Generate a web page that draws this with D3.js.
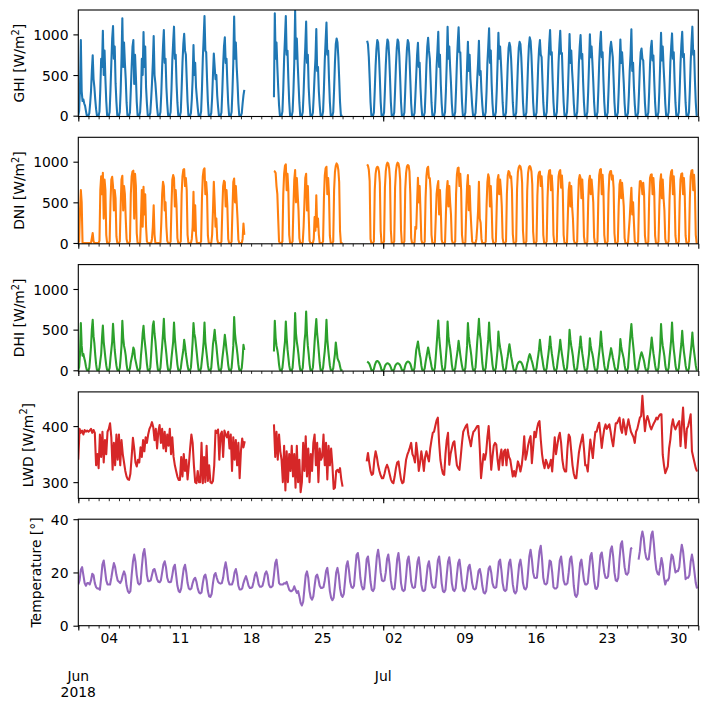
<!DOCTYPE html>
<html><head><meta charset="utf-8">
<script src="https://cdn.jsdelivr.net/npm/d3@7"></script>
<style>body{margin:0;background:#fff}svg{display:block}text{font-family:"DejaVu Sans",sans-serif;fill:#000}</style>
</head><body><svg id="c" width="707" height="712"></svg>
<script>
// ---- data: one row per day (Jun 1 .. Jul 31 2018); irradiance every 2 h, LWD / temperature every 3 h; null = missing
const ghi = [
[0,60,350,930,300,180,200,150,120,60,5,0],[0,30,150,300,550,744,450,350,200,80,5,0],[0,50,330,700,600,1045,500,800,450,180,5,0],
[0,45,320,650,950,1103,700,850,400,170,5,0],[0,45,300,700,1198,600,900,650,450,160,5,0],[0,40,320,600,850,930,390,750,480,170,5,0],
[0,45,250,700,500,1029,600,850,350,150,5,0],[0,35,200,400,650,979,500,400,250,100,5,0],[0,45,280,600,850,1054,650,700,350,150,5,0],
[0,45,320,680,900,1095,700,750,400,160,5,0],[0,45,330,650,880,1008,800,750,450,170,5,0],[0,35,200,450,868,500,650,350,220,100,5,0],
[0,50,330,700,950,1227,800,780,450,170,5,0],[0,35,220,500,764,600,450,500,250,110,5,0],[0,40,300,620,850,963,650,700,400,150,5,0],
[0,45,300,650,1219,700,900,600,400,150,5,0],[0,30,150,250,318],null,null,
[null,null,null,227,1260,700,900,600,350,130,5,0],[0,50,330,700,950,1227,750,800,450,170,5,0],[0,50,300,650,1289,700,950,650,400,160,5,0],
[0,45,280,600,850,1157,650,750,350,150,5,0],[0,40,250,500,700,1066,550,600,300,130,5,0],[0,50,330,680,920,1145,750,800,450,170,5,0],
[0,45,320,650,880,950,900,720,460,170,5,0],[0],null,
[null,null,null,null,null,921,880,720,460,170,5,0],[0,40,310,610,820,930,900,730,470,170,5,0],[0,40,310,615,830,938,905,735,470,170,5,0],
[0,40,310,615,830,938,905,735,470,170,5,0],[0,40,310,610,820,930,895,720,440,150,5,0],[0,35,250,500,750,897,600,650,350,140,5,0],
[0,40,300,620,850,959,800,700,420,160,5,0],[0,45,280,600,800,1033,600,750,380,150,5,0],[0,45,300,650,1095,700,850,600,400,150,5,0],
[0,45,320,660,900,1087,780,780,450,170,5,0],[0,40,280,600,909,550,750,450,300,130,5,0],[0,35,220,450,650,921,500,550,300,130,5,0],
[0,45,300,650,850,1074,650,800,400,150,5,0],[0,45,300,640,1021,700,850,650,420,160,5,0],[0,40,310,620,830,897,850,700,440,160,5,0],
[0,40,310,615,830,909,880,720,460,165,5,0],[0,40,310,630,860,963,920,740,460,165,5,0],[0,40,300,620,820,930,750,720,430,160,5,0],
[0,45,310,650,880,1054,750,780,440,165,5,0],[0,45,310,650,870,1045,760,770,440,165,5,0],[0,45,280,620,1004,650,800,550,380,150,5,0],
[0,45,300,640,850,992,700,760,420,160,5,0],[0,45,300,640,1000,720,850,650,420,160,5,0],[0,45,310,650,880,1033,720,780,440,165,5,0],
[0,40,310,620,830,909,820,720,450,165,5,0],[0,40,290,600,938,650,780,600,400,150,5,0],[0,35,250,550,750,1062,550,650,350,140,5,0],
[0,40,290,590,780,826,700,680,420,155,5,0],[0,40,300,620,830,921,680,740,430,160,5,0],[0,45,300,640,1021,680,850,600,400,150,5,0],
[0,45,300,650,850,1012,700,780,430,160,5,0],[0,45,300,640,870,1033,720,760,430,160,5,0],[0,45,310,660,900,1095,750,800,440,165,5,0]
];
const dni = [
[0,20,400,650,500,0,0,0,0,0,0,0],[0,0,0,0,60,123,20,0,0,0,0,0],[0,30,650,820,600,864,300,780,650,100,0,0],
[0,20,500,780,815,700,400,650,550,80,0,0],[0,20,450,780,827,400,700,600,300,50,0,0],[0,20,600,820,880,889,300,850,700,120,0,0],
[0,10,300,650,200,691,350,600,200,20,0,0],[0,0,0,50,200,465,100,0,0,0,0,0],[0,10,250,600,753,700,400,500,200,30,0,0],
[0,15,450,780,835,800,450,650,450,60,0,0],[0,20,600,820,900,909,700,800,650,100,0,0],[0,0,50,200,630,150,465,100,0,0,0,0],
[0,20,550,820,900,918,600,750,600,90,0,0],[0,0,100,400,753,500,200,300,50,0,0,0],[0,15,400,700,765,750,450,650,450,50,0,0],
[0,15,400,750,794,500,700,500,300,40,0,0],[0,0,50,239,100],null,null,
[null,null,null,885,880,860,700,600,300,20,0,0],[0,20,600,850,950,967,650,850,650,100,0,0],[0,20,450,780,897,500,800,600,400,60,0,0],
[0,10,200,500,800,852,400,700,350,30,0,0],[0,0,50,320,150,588,200,300,100,0,0,0],[0,20,550,830,920,938,600,800,600,90,0,0],
[0,20,650,870,950,979,960,900,750,150,0,0],[0],null,
[null,null,null,null,null,967,950,900,760,50,0,0],[0,20,650,850,920,938,930,880,740,150,0,0],[0,20,680,880,960,988,975,920,780,160,0,0],
[0,20,680,880,960,988,975,920,780,160,0,0],[0,20,660,860,940,959,950,880,600,60,0,0],[0,10,200,176,500,802,500,700,400,40,0,0],
[0,15,550,820,920,938,800,800,650,100,0,0],[0,10,300,600,700,761,350,650,400,40,0,0],[0,10,350,650,761,450,700,500,350,40,0,0],
[0,20,600,840,920,926,700,850,650,100,0,0],[0,10,400,700,835,403,700,400,200,20,0,0],[0,0,50,200,400,753,300,250,50,0,0,0],
[0,15,450,750,844,800,450,700,450,60,0,0],[0,15,450,780,835,600,780,650,450,60,0,0],[0,20,600,830,885,870,800,820,650,110,0,0],
[0,20,660,870,930,951,940,890,740,150,0,0],[0,20,640,860,930,947,930,880,720,140,0,0],[0,20,580,820,870,877,700,820,650,100,0,0],
[0,20,550,820,890,897,650,830,650,100,0,0],[0,20,560,820,880,897,680,830,640,100,0,0],[0,10,350,650,745,450,700,450,300,40,0,0],
[0,15,500,780,835,800,550,780,550,80,0,0],[0,15,500,770,827,600,780,650,500,70,0,0],[0,20,560,830,900,909,600,840,640,100,0,0],
[0,20,600,840,880,885,780,830,680,120,0,0],[0,15,450,720,774,550,740,600,450,60,0,0],[0,0,156,300,500,679,350,500,250,20,0,0],
[0,15,550,760,761,720,600,740,600,90,0,0],[0,15,550,800,840,844,600,800,620,90,0,0],[0,15,450,750,844,550,780,550,400,50,0,0],
[0,20,520,800,880,897,600,820,600,90,0,0],[0,15,500,780,850,856,600,800,600,90,0,0],[0,20,540,820,890,897,650,840,640,100,0,0]
];
const dhi = [
[0,40,200,580,300,180,200,150,110,50,5,0],[0,30,150,290,500,621,420,330,190,75,5,0],[0,30,120,200,400,551,350,250,150,60,5,0],
[0,30,150,250,350,572,400,250,150,60,5,0],[0,30,150,300,609,400,300,250,180,70,5,0],[0,25,100,150,200,280,250,150,100,50,5,0],
[0,30,180,300,450,547,400,300,200,80,5,0],[0,35,190,380,550,601,450,360,230,90,5,0],[0,30,170,300,450,634,400,300,200,80,5,0],
[0,30,150,250,350,588,400,280,180,70,5,0],[0,25,110,180,250,374,300,200,130,55,5,0],[0,35,180,350,580,450,400,300,200,90,5,0],
[0,30,130,230,350,588,350,250,160,60,5,0],[0,30,170,320,400,498,380,300,190,80,5,0],[0,30,140,230,320,436,350,250,170,65,5,0],
[0,30,160,300,654,450,350,280,190,75,5,0],[0,30,150,313,250],null,null,
[null,null,null,230,609,400,300,250,180,70,5,0],[0,30,130,250,350,601,400,260,160,60,5,0],[0,30,170,320,704,450,350,280,190,75,5,0],
[0,30,180,350,450,724,450,300,200,80,5,0],[0,35,180,350,500,630,450,350,220,90,5,0],[0,30,140,240,380,621,380,260,160,60,5,0],
[0,25,120,200,342,250,150,120,100,50,5,0],[0],null,
[null,null,null,null,null,107,100,90,70,40,5,0],[0,15,60,90,110,115,110,95,75,45,5,0],[0,12,50,70,82,86,84,75,60,35,5,0],
[0,12,50,70,82,86,84,75,60,35,5,0],[0,15,60,85,100,107,105,95,80,45,5,0],[0,30,140,250,300,354,280,200,150,60,5,0],
[0,25,100,160,220,280,230,160,110,50,5,0],[0,30,160,300,450,613,420,300,190,75,5,0],[0,30,160,300,601,420,330,270,180,70,5,0],
[0,25,110,180,260,362,280,190,120,55,5,0],[0,30,160,300,580,420,330,260,180,70,5,0],[0,35,180,350,480,634,450,380,230,90,5,0],
[0,30,150,270,380,588,400,280,180,70,5,0],[0,30,140,250,477,350,280,220,160,65,5,0],[0,25,110,170,250,321,250,170,120,55,5,0],
[0,15,60,85,100,107,105,95,75,45,5,0],[0,20,80,120,170,198,170,130,95,50,5,0],[0,25,110,180,260,374,280,190,130,55,5,0],
[0,25,120,200,290,416,300,210,140,60,5,0],[0,25,115,190,270,374,280,200,130,55,5,0],[0,30,150,270,498,380,300,240,170,65,5,0],
[0,25,120,210,300,416,300,210,140,60,5,0],[0,25,120,200,395,300,240,200,140,60,5,0],[0,25,130,220,320,477,330,230,150,60,5,0],
[0,22,100,150,210,272,220,160,110,50,5,0],[0,25,120,200,383,290,230,190,140,60,5,0],[0,30,170,320,450,568,420,320,210,80,5,0],
[0,22,90,140,190,222,190,150,110,50,5,0],[0,25,120,200,290,403,300,210,140,60,5,0],[0,30,150,270,568,400,300,240,170,65,5,0],
[0,30,150,260,380,588,380,260,170,65,5,0],[0,25,130,230,330,486,330,230,150,60,5,0],[0,25,130,220,320,465,320,230,150,60,5,0]
];
const lwd = [
[340,395,388,392,385,393,390,392],[390,392,395,388,393,388,330,350],[325,385,345,390,335,375,350,390],[395,405,380,322,370,330,385,340],
[385,330,375,350,335,320,310,305],[304,315,345,379,360,335,328,340],[335,362,345,375,355,380,370,385],[395,400,407,398,375,395,360,390],
[402,370,395,360,390,355,385,365],[395,350,380,345,330,320,310,304],[304,345,310,350,320,340,305,330],[360,385,370,330,300,298,320,300],
[300,370,298,345,300,365,302,330],[300,298,302,330,392,388,394,340],[385,390,345,392,385,380,390,360],[385,320,380,340,375,330,370,307],
[355,378,362,373,null,null,null,null],null,null,[null,null,403,345,390,340,385,355],
[340,300,365,285,355,300,350,320],[365,310,350,290,365,300,340,282],[300,370,320,382,310,360,300,350],[320,370,385,330,370,300,360,340],
[345,385,330,370,305,365,330,360],[330,288,290,320,322,318,325,305],[292],null,
[null,null,null,337,352,335,320,313],[315,340,355,345,330,320,312,307],[307,315,325,331,325,315,305,300],[298,310,325,335,337,320,305,298],
[300,320,340,349,355,362,370,350],[345,335,370,350,320,335,355,340],[320,345,355,345,337,360,375,388],[390,400,410,415,370,340,325,315],
[313,350,375,388,331,350,360,370],[373,350,330,325,322,345,370,390],[395,400,403,385,375,364,380,390],[392,396,400,400,360,307,330,350],
[340,352,380,400,365,322,345,365],[370,367,340,322,345,358,330,355],[358,330,358,345,340,325,310,320],[310,322,337,330,319,330,350,382],
[340,350,365,375,382,334,361,390],[380,395,405,409,376,350,334,325],[340,334,325,330,340,319,350,380],[350,365,380,388,370,340,325,319],
[319,360,385,380,355,330,315,307],[307,330,352,365,375,385,360,330],[330,319,350,376,360,343,370,390],[390,400,406,385,361,380,395,403],
[395,400,403,390,375,364,385,405],[405,410,415,395,388,412,400,385],[400,412,400,390,385,380,370,390],[395,405,415,418,454,420,391,410],
[418,410,400,394,400,405,409,415],[412,418,421,421,349,330,316,322],[328,360,376,400,412,400,394,400],[405,409,364,400,433,390,361,395],
[400,410,421,355,345,335,325,319]
];
const temp = [
[15.5,17,21,22,19,16,15,16],[16,15.5,17,19.5,19,16,14.5,14],[14,13.5,18,23,24.5,21,17,15.5],[15.5,15.5,18,21,23.5,22,19,17],
[16.5,16,17,19,20.4,19,15,13],[12.3,13,19,24,26.7,24,19,16],[15.5,16,22,27,28.8,25,19,16.7],[16.7,17,19,21,21.3,19.5,17.5,16.5],
[16.3,17,20,23,24.2,22,18,16.5],[16.3,16.5,19,22,22.9,19,15,13],[12.6,14,18,21.5,22.9,20,16,14],[13.6,14,16,17.5,18,16.5,14,12.5],
[12.1,12.5,16,18.5,19.2,17,13,11],[10.8,12,16,19,19.8,18,16.5,16],[15.8,16,18,21.5,23.8,21,17,15.5],[15.5,15.5,17,20,21.3,19,15,13.6],
[13.6,14,16,17.5,18.6,17,15,14.2],[14.2,14.5,16.5,19,20,18,15.5,14.6],[14.6,15,17,19.5,20.4,19,15.5,14.5],[14.5,15,19,23.5,24.8,21,16,15.5],
[15.5,15.5,16,15.8,16.5,15,13.5,13],[13,13.5,14.8,13.5,12.3,13,11,8.5],[7.6,9,14,19,20.4,18,13,10.5],[9.8,11,15,18.5,19.2,17.5,15,14.2],
[14.2,14.5,17,20.5,21.7,18,13,10.5],[9.6,10.5,15,20,21.7,19,14,11.5],[10.8,12,17,22.5,24.2,21,16.5,14.5],[14.2,15,21,26.5,27.3,24,18,15],
[13.6,14,19,25,26,22,16.5,13.5],[13,14,20,26,28.5,25,20,17],[16.7,17,20,25,26.7,23,17,14],[13.6,14,19,25,27.3,23,16,13.5],
[13,13.5,18.5,24.5,26,22,16.5,14.5],[14.2,14.5,19,24,25.7,21.5,15.5,13.2],[13,13.5,18,22.5,24.2,21,16,14.5],[14.2,14.5,19,24.5,26,22,16,13],
[12.6,13.5,19,24,25.7,22,16,13.5],[13,14,19,23.5,24.8,21,16,13.3],[13,14,18,22,22.9,20,16,14],[13.6,14,17,20.5,21.3,19,15,12.5],
[12.1,13,17.5,21.5,22.3,20,16,14.5],[14.2,14.5,19,24,24.8,21,16,13.5],[13,13.5,18.5,23.5,24.8,21,15.5,12.8],[12.1,13,18,23,24.8,21.5,16,14],
[13.6,14.5,20,26,28.5,25,20,18],[17.9,18,23,28,30,25,18,15.8],[15.5,16,20,24.5,24,20,14.5,14],[14,14.5,19.5,24.5,26,22,17,15.5],
[15.5,16,20,25,26,22,15,11.5],[10.8,12,18,23.5,24.8,21,17,15.5],[15.5,16,21,26,27.3,23,17,14],[13.8,15,21,26.5,27.5,24,20,18],
[17.9,18.5,24,28.5,29.8,26,20,17],[16.7,18,25,30.5,31.7,27,22,19.5],[19.2,20,25,29,29.2,null,null,null],[null,24.8,28,33,35.4,33,28,25.5],
[24.8,25,29,34,35.4,31,25,21],[19.5,19.2,22,25.4,23,18,15.5,17],[17,18,23,26.7,26,23,20,20.5],[20.5,22,27,30.4,28,23,17.5,18],
[18,19,24,26.7,24,20,16,14]
];
const irrTicks = [0, 500, 1000], lwdTicks = [300, 400], tempTicks = [0, 20, 40];
const irrDomain = [-10, 1300], lwdDomain = [271, 461], tempDomain = [0, 40];
const START = Date.UTC(2018, 5, 1), END = Date.UTC(2018, 7, 1);

// ---- layout
const L = 78.3, R = 698.3, TOP0 = 10, STEP = 127.3, PH = 106.5, FS = 13.9;
const svg = d3.select('#c');
svg.append('rect').attr('width', 707).attr('height', 712).attr('fill', '#fff');
const x = d3.scaleUtc().domain([START, END]).range([L, R]);

function toPoints(rows, stepH) {
  const out = [];
  rows.forEach((row, d) => {
    const base = START + d * 864e5;
    if (!row) { out.push({t: base, v: null}); return; }
    row.forEach((v, i) => out.push({t: base + i * stepH * 36e5, v}));
  });
  return out;
}

const panels = [
  {rows: ghi, step: 2, color: '#1f77b4', dom: irrDomain, ticks: irrTicks, name: 'GHI', unit: true, lx: 24},
  {rows: dni, step: 2, color: '#ff7f0e', dom: irrDomain, ticks: irrTicks, name: 'DNI', unit: true, lx: 24},
  {rows: dhi, step: 2, color: '#2ca02c', dom: irrDomain, ticks: irrTicks, name: 'DHI', unit: true, lx: 24},
  {rows: lwd, step: 3, color: '#d62728', dom: lwdDomain, ticks: lwdTicks, name: 'LWD', unit: true, lx: 32.5},
  {rows: temp, step: 3, color: '#9467bd', dom: tempDomain, ticks: tempTicks, name: 'Temperature [°]', unit: false, lx: 41.3}
];

const days = d3.utcDay.range(START, END);
const months = d3.utcMonth.range(START, END + 1);
const mondays = d3.utcMonday.range(START, END);

panels.forEach((p, i) => {
  const top = TOP0 + i * STEP, bot = top + PH;
  const y = d3.scaleLinear().domain(p.dom).range([bot, top]);
  const cid = 'clip' + i;
  svg.append('clipPath').attr('id', cid).append('rect')
    .attr('x', L).attr('y', top).attr('width', R - L).attr('height', PH);
  const line = d3.line().defined(d => d.v != null).x(d => x(d.t)).y(d => y(d.v));
  svg.append('path').datum(toPoints(p.rows, p.step))
    .attr('clip-path', `url(#${cid})`)
    .attr('fill', 'none').attr('stroke', p.color).attr('stroke-width', 2.08)
    .attr('stroke-linejoin', 'round').attr('d', line);

  // y axis
  const ya = svg.append('g').attr('transform', `translate(${L},0)`)
    .call(d3.axisLeft(y).tickValues(p.ticks).tickSize(4.9).tickPadding(4.9).tickFormat(d3.format('d')));
  ya.select('.domain').remove();
  ya.selectAll('line').attr('stroke', '#000').attr('stroke-width', 1.1);
  ya.selectAll('text').attr('font-size', FS).attr('dy', '0.365em').attr('font-family', 'DejaVu Sans');

  // x ticks
  const xm = svg.append('g').attr('transform', `translate(0,${bot})`)
    .call(d3.axisBottom(x).tickValues(days).tickSize(2.8).tickFormat(''));
  xm.select('.domain').remove();
  xm.selectAll('line').attr('stroke', '#000').attr('stroke-width', 0.83);
  const xM = svg.append('g').attr('transform', `translate(0,${bot})`)
    .call(d3.axisBottom(x).tickValues(months).tickSize(4.9).tickFormat(''));
  xM.select('.domain').remove();
  xM.selectAll('line').attr('stroke', '#000').attr('stroke-width', 1.1);

  if (i === panels.length - 1) {
    const xl = svg.append('g').attr('transform', `translate(0,${bot})`)
      .call(d3.axisBottom(x).tickValues(mondays).tickSize(0).tickPadding(7.7).tickFormat(d3.utcFormat('%d')));
    xl.select('.domain').remove();
    xl.selectAll('text').attr('font-size', FS).attr('font-family', 'DejaVu Sans');
    const monthLab = [{d: months[0], a: 'Jun', b: '2018'}, {d: months[1], a: 'Jul', b: ''}];
    monthLab.forEach(m => {
      svg.append('text').attr('x', x(m.d)).attr('y', bot + 55).attr('text-anchor', 'middle')
        .attr('font-size', FS).text(m.a);
      if (m.b) svg.append('text').attr('x', x(m.d)).attr('y', bot + 71.7).attr('text-anchor', 'middle')
        .attr('font-size', FS).text(m.b);
    });
  }

  // frame
  svg.append('rect').attr('x', L).attr('y', top).attr('width', R - L).attr('height', PH)
    .attr('fill', 'none').attr('stroke', '#000').attr('stroke-width', 1.1);

  // y label
  const t = svg.append('text').attr('transform', `translate(${p.lx},${(top + bot) / 2}) rotate(-90)`)
    .attr('text-anchor', 'middle').attr('font-size', FS);
  if (p.unit) {
    t.append('tspan').text(p.name + ' [W/m');
    t.append('tspan').attr('font-size', FS * 0.7).attr('dy', -5.5).text('2');
    t.append('tspan').attr('dy', 5.5).text(']');
  } else {
    t.text(p.name);
  }
});
</script></body></html>
